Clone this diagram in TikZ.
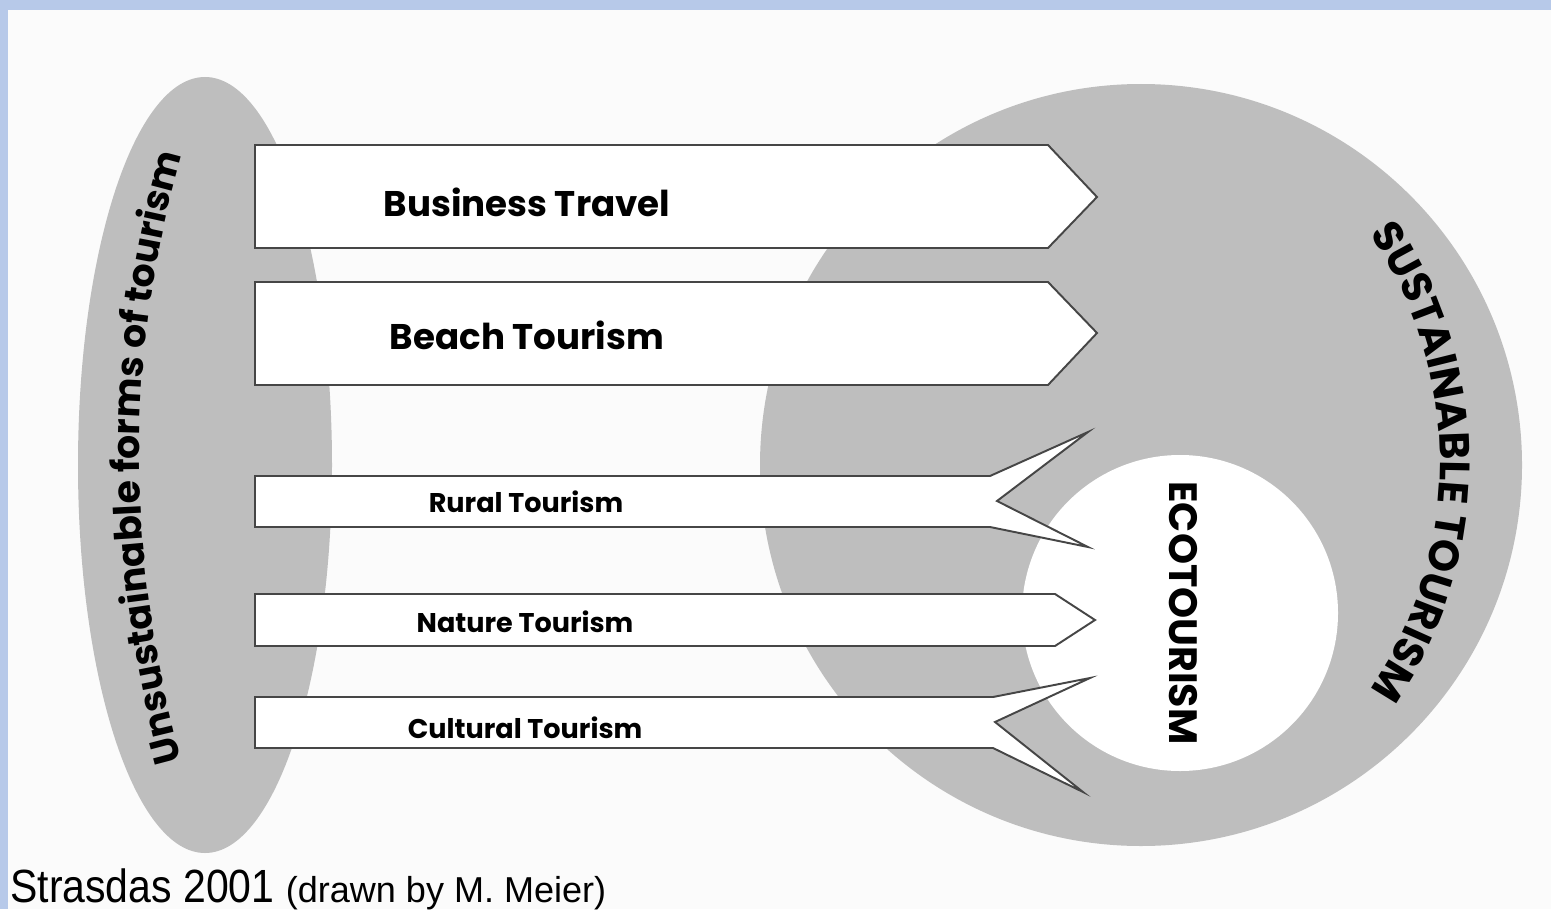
\documentclass[tikz,border=0pt]{standalone}
\usepackage{fontspec}
\newfontfamily\gothic{Poppins}
\newfontfamily\capfont[FakeStretch=0.88]{Liberation Sans}
\newfontfamily\notefont{Liberation Sans}
\usetikzlibrary{decorations.text}
\definecolor{frameblue}{RGB}{183,201,233}
\definecolor{paper}{RGB}{251,251,251}
\definecolor{fieldgray}{RGB}{190,190,190}
\definecolor{rim}{RGB}{70,70,70}
\tikzstyle{band}=[draw=rim, fill=white, line width=1.1pt]
\tikzstyle{bigtag}=[font=\gothic\bfseries\fontsize{20.3}{20.3}\selectfont]
\tikzstyle{smalltag}=[font=\gothic\bfseries\fontsize{15.4}{15.4}\selectfont]
\tikzstyle{captag}=[font=\gothic\bfseries\fontsize{22.5}{22.5}\selectfont]

\begin{document}
\begin{tikzpicture}[x=0.02cm, y=-0.02cm]
      \useasboundingbox (0, 0) rectangle (1551, 909);
      \fill[frameblue] (0, 0) rectangle (1551, 909);
      \fill[paper] (8, 10) rectangle (1551, 909);

      % the two fields
      \fill[fieldgray] (205, 465) ellipse[x radius=127, y radius=388];
      \fill[fieldgray] (1141, 465) circle[radius=381];
      \fill[white] (1180, 613) circle[radius=158];

      % arrows
      \draw[band] (255, 145) -- (1048, 145) -- (1097, 197) -- (1048, 248)
        -- (255, 248) -- cycle;
      \draw[band] (255, 282) -- (1048, 282) -- (1097, 333) -- (1048, 385)
        -- (255, 385) -- cycle;
      \draw[band] (255, 476) -- (990, 476) -- (1088, 432) -- (997, 501)
        -- (1088, 547) -- (990, 527) -- (255, 527) -- cycle;
      \draw[band] (255, 594) -- (1055, 594) -- (1095, 620) -- (1055, 646)
        -- (255, 646) -- cycle;
      \draw[band] (255, 697) -- (993, 697) -- (1090, 678) -- (995, 722)
        -- (1083, 792) -- (993, 748) -- (255, 748) -- cycle;

      \node[bigtag] (business) at (527, 202) {Business Travel};
      \node[bigtag] (beach) at (527, 335) {Beach Tourism};
      \node[smalltag] (rural) at (526, 502) {Rural Tourism};
      \node[smalltag] (nature) at (525, 622) {Nature Tourism};
      \node[smalltag] (cultural) at (525, 728) {Cultural Tourism};

      \node[captag, rotate=-90] (eco) at (1183, 613) {ECOTOURISM};

      % curved captions
      \path[decorate, decoration={text along path, text align=center,
          text={|\gothic\bfseries\fontsize{21.5}{21.5}\selectfont|Unsustainable forms of tourism}}]
        (186, 775) .. controls (124, 560) and (124, 350) .. (186, 140);
      \path[decorate, decoration={text along path, text align=center,
          text={|\gothic\bfseries\fontsize{24}{24}\selectfont|SUSTAINABLE TOURISM}}]
        (1035, 462) ++(-45:405) arc[start angle=-45, end angle=45, radius=405];

      \node[anchor=base west, inner sep=0] (credit) at (10, 902)
        {\capfont\fontsize{26.5}{26.5}\selectfont Strasdas 2001
         \notefont\fontsize{20.5}{20.5}\selectfont(drawn by M. Meier)};
    \end{tikzpicture}
\end{document}
